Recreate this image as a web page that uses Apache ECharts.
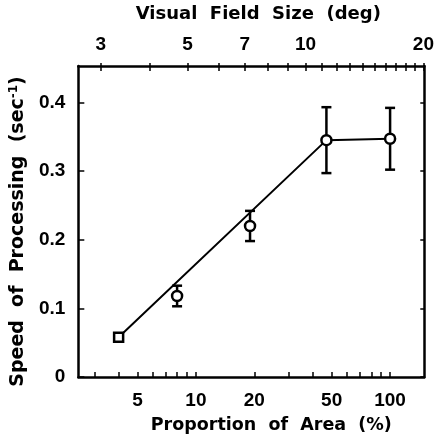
<!DOCTYPE html>
<html>
<head>
<meta charset="utf-8">
<style>html,body{margin:0;padding:0;background:#fff}#c{width:437px;height:446px}</style>
<script src="https://cdn.jsdelivr.net/npm/echarts@6/dist/echarts.min.js"></script>
</head>
<body>
<div id="c"></div>
<script>
// proportion of area (%) -> speed of processing (1/sec)
const area = [4, 8, 19, 47, 100];
const speed = [0.058, 0.118, 0.22, 0.345, 0.347];
const errs = [0.004, 0.015, 0.022, 0.048, 0.045];
// fitted line drawn through the points
const fitX = [4, 47, 100];
const fitY = [0.058, 0.345, 0.347];

const bottomLabels = [5, 10, 20, 50, 100];
const bottomTicks = [3, 4, 5, 6, 7, 8, 9, 10, 20, 30, 40, 50, 60, 70, 80, 90, 100];
const topLabels = [3, 5, 7, 10, 20];
const topTicks = [3, 4, 5, 6, 7, 8, 9, 10, 11, 12, 13, 14, 15, 16, 17, 18, 19, 20];
const yTicks = [0, 0.1, 0.2, 0.3, 0.4];

const FONT = 'Liberation Sans';
const TITLE_FONT = 'DejaVu Sans';
const chart = echarts.init(document.getElementById('c'), null, {renderer: 'canvas'});

const lineStyle = {color: '#000', width: 2.5};
const tickLabel = {fontFamily: FONT, fontWeight: 'bold', fontSize: 19, color: '#000'};
const tickStyle = {color: '#000', width: 1.5};

chart.setOption({
  animation: false,
  backgroundColor: '#fff',
  grid: {left: 77, right: 10, top: 66, bottom: 69},
  xAxis: [
    {
      type: 'log', position: 'bottom', min: 2.48, max: 150,
      name: 'Proportion  of  Area  (%)', nameLocation: 'middle', nameGap: 39,
      nameTextStyle: {fontFamily: TITLE_FONT, fontWeight: 'bold', fontSize: 17.5, color: '#000', padding: [0, 0, 0, 40]},
      axisLine: {onZero: false, lineStyle: lineStyle},
      axisTick: {inside: true, length: 5, lineStyle: tickStyle, customValues: bottomTicks},
      axisLabel: Object.assign({margin: 14, customValues: bottomLabels}, tickLabel),
      splitLine: {show: false}
    },
    {
      type: 'log', position: 'top', min: 2.63, max: 20.1,
      name: 'Visual  Field  Size  (deg)', nameLocation: 'middle', nameGap: 43,
      nameTextStyle: {fontFamily: TITLE_FONT, fontWeight: 'bold', fontSize: 18, color: '#000', padding: [0, 0, 0, 14]},
      axisLine: {onZero: false, lineStyle: lineStyle},
      axisTick: {show: false},
      axisLabel: Object.assign({margin: 12, customValues: topLabels}, tickLabel),
      splitLine: {show: false}
    },
    {
      // same scale as the top axis, only for its ticks (outward)
      type: 'log', position: 'top', min: 2.63, max: 20.1,
      axisLine: {show: false, onZero: false},
      axisTick: {show: true, inside: false, length: 3, lineStyle: tickStyle, customValues: topTicks},
      axisLabel: {show: false}, splitLine: {show: false}
    },
    {
      // same scale again, ticks pointing into the plot
      type: 'log', position: 'top', min: 2.63, max: 20.1,
      axisLine: {show: false, onZero: false},
      axisTick: {show: true, inside: false, length: -5, lineStyle: tickStyle, customValues: topTicks},
      axisLabel: {show: false}, splitLine: {show: false}
    }
  ],
  yAxis: [
    {
      type: 'value', min: 0, max: 0.453,
      name: 'Speed  of  Processing  (sec{sup|-1})', nameLocation: 'middle', nameGap: 49,
      nameTextStyle: {
        fontFamily: TITLE_FONT, fontWeight: 'bold', fontSize: 19, color: '#000', padding: [0, 20, 0, 0],
        rich: {sup: {fontFamily: TITLE_FONT, fontWeight: 'bold', fontSize: 12, color: '#000', padding: [0, 0, 9, 0]}}
      },
      axisLine: {show: true, onZero: false, lineStyle: lineStyle},
      axisTick: {inside: true, length: 6, lineStyle: tickStyle, customValues: yTicks},
      axisLabel: Object.assign({margin: 13, customValues: yTicks, formatter: v => v === 0 ? '0' : v.toFixed(1)}, tickLabel),
      splitLine: {show: false}
    },
    {
      type: 'value', min: 0, max: 0.453, position: 'right',
      axisLine: {show: true, onZero: false, lineStyle: lineStyle},
      axisTick: {inside: true, length: 4, lineStyle: tickStyle, customValues: yTicks},
      axisLabel: {show: false}, splitLine: {show: false}
    }
  ],
  series: [
    {
      type: 'line', xAxisIndex: 0, yAxisIndex: 0, z: 2,
      data: fitX.map((x, i) => [x, fitY[i]]),
      symbol: 'none', lineStyle: {color: '#000', width: 2}
    },
    {
      type: 'custom', xAxisIndex: 0, yAxisIndex: 0, z: 3,
      data: area.map((x, i) => [x, speed[i], errs[i]]),
      renderItem: function (params, api) {
        const x = api.value(0), y = api.value(1), e = api.value(2);
        const hi = api.coord([x, y + e]);
        const lo = api.coord([x, y - e]);
        const w = 5;
        const st = {stroke: '#000', lineWidth: 2.5};
        return {
          type: 'group',
          children: [
            {type: 'line', shape: {x1: hi[0], y1: hi[1], x2: lo[0], y2: lo[1]}, style: st},
            {type: 'line', shape: {x1: hi[0] - w, y1: hi[1], x2: hi[0] + w, y2: hi[1]}, style: st},
            {type: 'line', shape: {x1: lo[0] - w, y1: lo[1], x2: lo[0] + w, y2: lo[1]}, style: st}
          ]
        };
      }
    },
    {
      type: 'scatter', xAxisIndex: 0, yAxisIndex: 0, z: 4,
      data: area.map((x, i) => ({value: [x, speed[i]], symbol: i === 0 ? 'rect' : 'circle', symbolSize: i === 0 ? 9 : 10})),
      itemStyle: {color: '#fff', borderColor: '#000', borderWidth: 2.5, opacity: 1}
    }
  ]
});
</script>
</body>
</html>
